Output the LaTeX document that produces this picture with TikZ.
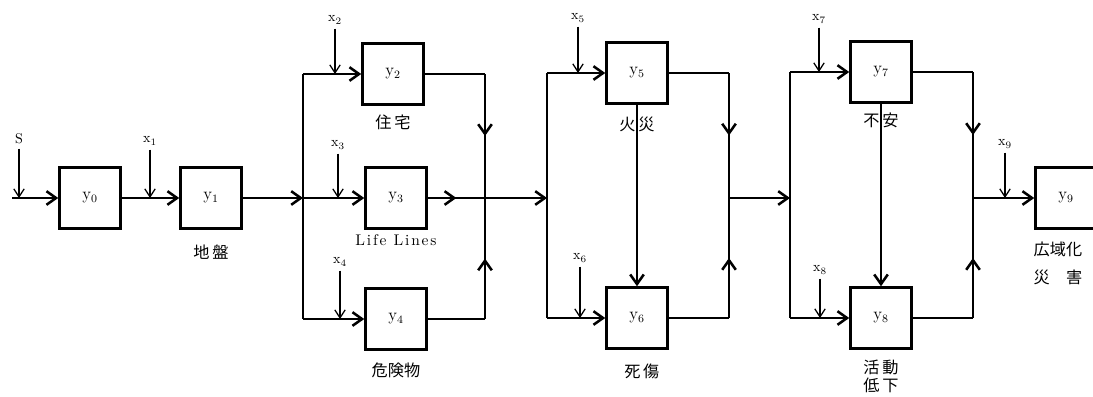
\documentclass[tikz,border=0pt]{standalone}
\usepackage{fontspec}
\newfontfamily\cjk{Noto Sans CJK JP}
\newfontfamily\spaced[LetterSpace=12]{Latin Modern Roman}
\usetikzlibrary{arrows.meta,positioning,decorations.markings}
\tikzset{
  block/.style={
    draw,
    line width=1.9pt,
    minimum width=1.52cm,
    minimum height=1.52cm,
    inner sep=0pt,
    font=\large
  },
  tag/.style={
    inner sep=3pt,
    font=\normalsize
  },
  note/.style={
    inner sep=0pt,
    align=center,
    font=\cjk\fontsize{11.5}{13}\selectfont
  },
  wire/.style={line width=1.8pt},
  flow/.style={wire, -{Straight Barb[length=2.4mm,width=3.4mm]}},
  feed/.style={line width=0.9pt, -{Straight Barb[length=2mm,width=2.6mm]}},
  mid/.style={
    decoration={markings,
      mark=at position 0.5 with {\arrow{Straight Barb[length=2.4mm,width=3.4mm]}}},
    postaction={decorate}
  }
}

\begin{document}
\begin{tikzpicture}[x=0.025cm, y=-0.025cm]
  \useasboundingbox (0,0) rectangle (1093,396);

  % source and ground
  \coordinate (start) at (12,198);
  \node[tag] (s) at (19,139) {S};
  \node[block] (y0) at (90,198) {$\mathrm{y}_0$};
  \node[tag] (x1) at (150,141) {$\mathrm{x}_1$};
  \node[block] (y1) at (211,198) {$\mathrm{y}_1$};
  \node[note, below=0.37cm of y1] (n1) {地\,盤};

  % first parallel stage
  \coordinate (in1) at (303,198);
  \coordinate (out1) at (485,198);
  \node[block] (y2) at (393,74) {$\mathrm{y}_2$};
  \node[block] (y3) at (396,198) {$\mathrm{y}_3$};
  \node[block] (y4) at (396,319) {$\mathrm{y}_4$};
  \node[tag] (x2) at (335,20) {$\mathrm{x}_2$};
  \node[tag] (x3) at (338,145) {$\mathrm{x}_3$};
  \node[tag] (x4) at (340,262) {$\mathrm{x}_4$};
  \node[note, below=0.22cm of y2] (n2) {住\,宅};
  \node[inner sep=0pt, below=0.12cm of y3, font=\spaced\fontsize{11}{13}\selectfont] (n3) {Life Lines};
  \node[note, below=0.3cm of y4] (n4) {危険物};

  % second parallel stage
  \coordinate (in2) at (547,198);
  \coordinate (out2) at (729,198);
  \node[block] (y5) at (637,73) {$\mathrm{y}_5$};
  \node[block] (y6) at (637,318) {$\mathrm{y}_6$};
  \node[tag] (x5) at (578,18) {$\mathrm{x}_5$};
  \node[tag] (x6) at (580,258) {$\mathrm{x}_6$};
  \node[note, below=0.3cm of y5] (n5) {火\,災};
  \node[note, below=0.35cm of y6, xshift=0.12cm] (n6) {死\,傷};

  % third parallel stage
  \coordinate (in3) at (790,198);
  \coordinate (out3) at (973,198);
  \node[block] (y7) at (881,72) {$\mathrm{y}_7$};
  \node[block] (y8) at (881,318) {$\mathrm{y}_8$};
  \node[tag] (x7) at (819,19) {$\mathrm{x}_7$};
  \node[tag] (x8) at (820,270) {$\mathrm{x}_8$};
  \node[note, below=0.22cm of y7] (n7) {不\,安};
  \node[note, below=0.25cm of y8] (n8) {活\,動\\低\,下};

  % wide area damage
  \node[block] (y9) at (1066,198) {$\mathrm{y}_9$};
  \node[tag] (x9) at (1005,144) {$\mathrm{x}_9$};
  \node[note, align=left, anchor=north west, below right=0.3cm and -0.02cm of y9.south west] (n9) {広域化\\[7pt]災　害};

  % main chain
  \draw[flow] (start) -- (y0);
  \draw[flow] (y0) -- (y1);
  \draw[flow] (y1) -- (in1);
  \draw[feed] (s) -- (s |- start);
  \draw[feed] (x1) -- (x1 |- y1.west);

  % stage 1 wiring
  \draw[wire] (in1 |- y2.west) -- (in1 |- y4.west);
  \draw[flow] (in1 |- y2.west) -- (y2);
  \draw[flow] (in1) -- (y3);
  \draw[flow] (in1 |- y4.west) -- (y4);
  \draw[feed] (x2) -- (x2 |- y2.west);
  \draw[feed] (x3) -- (x3 |- y3.west);
  \draw[feed] (x4) -- (x4 |- y4.west);
  \draw[wire] (y2) -- (y2 -| out1);
  \draw[wire, mid] (y2 -| out1) -- (out1);
  \draw[wire] (y4) -- (y4 -| out1);
  \draw[wire, mid] (y4 -| out1) -- (out1);
  \draw[wire, mid] (y3) -- (out1);
  \draw[flow] (out1) -- (in2);

  % stage 2 wiring
  \draw[wire] (in2 |- y5.west) -- (in2 |- y6.west);
  \draw[flow] (in2 |- y5.west) -- (y5);
  \draw[flow] (in2 |- y6.west) -- (y6);
  \draw[feed] (x5) -- (x5 |- y5.west);
  \draw[feed] (x6) -- (x6 |- y6.west);
  \draw[flow] (y5) -- (y6);
  \draw[wire] (y5) -- (y5 -| out2);
  \draw[wire, mid] (y5 -| out2) -- (out2);
  \draw[wire] (y6) -- (y6 -| out2);
  \draw[wire, mid] (y6 -| out2) -- (out2);
  \draw[flow] (out2) -- (in3);

  % stage 3 wiring
  \draw[wire] (in3 |- y7.west) -- (in3 |- y8.west);
  \draw[flow] (in3 |- y7.west) -- (y7);
  \draw[flow] (in3 |- y8.west) -- (y8);
  \draw[feed] (x7) -- (x7 |- y7.west);
  \draw[feed] (x8) -- (x8 |- y8.west);
  \draw[flow] (y7) -- (y8);
  \draw[wire] (y7) -- (y7 -| out3);
  \draw[wire, mid] (y7 -| out3) -- (out3);
  \draw[wire] (y8) -- (y8 -| out3);
  \draw[wire, mid] (y8 -| out3) -- (out3);
  \draw[flow] (out3) -- (y9);
  \draw[feed] (x9) -- (x9 |- y9.west);
\end{tikzpicture}
\end{document}
